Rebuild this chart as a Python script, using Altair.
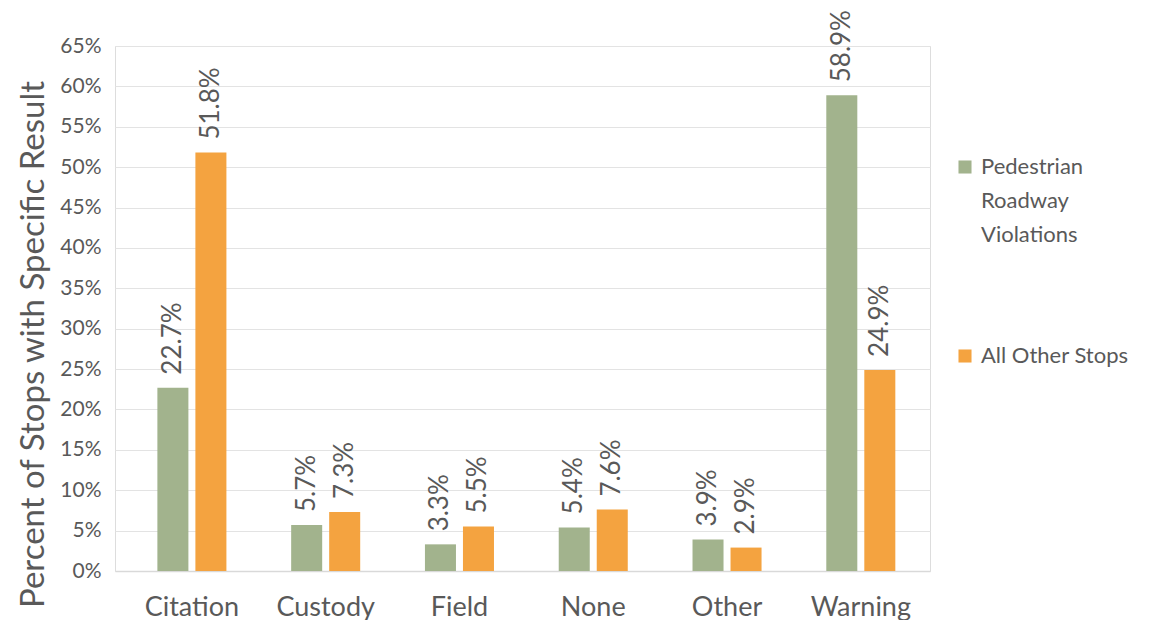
import altair as alt
import pandas as pd

categories = ["Citation", "Custody", "Field", "None", "Other", "Warning"]
series_names = ["Pedestrian Roadway Violations", "All Other Stops"]
pedestrian = [22.7, 5.7, 3.3, 5.4, 3.9, 58.9]
other_stops = [51.8, 7.3, 5.5, 7.6, 2.9, 24.9]
colors = ["#A2B38D", "#F4A340"]

rows = []
for i, c in enumerate(categories):
    rows.append({"cat": c, "series": series_names[0], "value": pedestrian[i]})
    rows.append({"cat": c, "series": series_names[1], "value": other_stops[i]})
df = pd.DataFrame(rows)
df["label"] = df["value"].map(lambda v: f"{v:.1f}%")

FONT = "Lato"
GRAY = "#595959"

x = alt.X("cat:N", sort=categories, title=None,
          scale=alt.Scale(paddingInner=0.484, paddingOuter=0.288, align=0.55),
          axis=alt.Axis(labelAngle=0, labelFontSize=27, labelColor=GRAY, labelFont=FONT,
                        labelPadding=23, ticks=False, domainColor="#D9D9D9", domainWidth=1.5))
xo = alt.XOffset("series:N", sort=series_names, scale=alt.Scale(paddingInner=0.184))
y = alt.Y("value:Q", title="Percent of Stops with Specific Result",
          scale=alt.Scale(domain=[0, 65], nice=False),
          axis=alt.Axis(values=list(range(0, 66, 5)), labelExpr="datum.value + '%'",
                        labelFontSize=21, labelColor=GRAY, labelFont=FONT, labelPadding=14,
                        ticks=False, domain=False, gridColor="#E3E3E3", gridWidth=1.2,
                        titleFontSize=33, titleFont=FONT, titleColor=GRAY, titleFontWeight="normal",
                        titlePadding=9, titleY=298))

color = alt.Color("series:N", sort=series_names,
                  scale=alt.Scale(domain=series_names, range=colors),
                  legend=alt.Legend(title=None, orient="none", legendX=839, legendY=110,
                                    symbolType="square", symbolSize=170, symbolStrokeWidth=0,
                                    labelFontSize=22, labelColor=GRAY, labelFont=FONT,
                                    labelExpr="datum.label == 'Pedestrian Roadway Violations' ? ['Pedestrian','Roadway','Violations'] : datum.label",
                                    rowPadding=99, labelLimit=300, labelOffset=5))

bars = alt.Chart(df).mark_bar().encode(x=x, xOffset=xo, y=y, color=color)
labels = alt.Chart(df).mark_text(angle=270, align="left", baseline="middle", dx=13,
                                 fontSize=26, font=FONT, color=GRAY).encode(
    x=alt.X("cat:N", sort=categories), xOffset=xo, y="value:Q", text="label:N")

chart = alt.layer(bars, labels).properties(width=815, height=525).configure_view(
    stroke=None).configure(padding={"left": 9, "top": 2, "right": 5, "bottom": 0},
                           style={"guide-label": {"lineHeight": 34}})

chart.save("out.html", embed_options={"renderer": "svg", "actions": False})
